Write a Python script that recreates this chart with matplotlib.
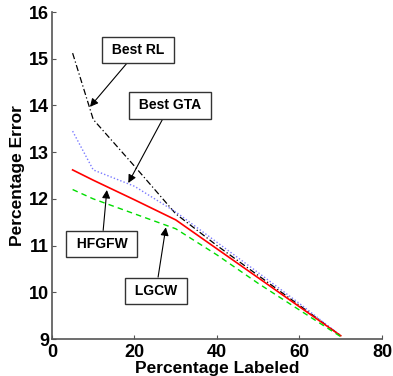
import matplotlib.pyplot as plt

plt.rcParams['font.family'] = ['Liberation Sans', 'DejaVu Sans']
plt.rcParams['font.weight'] = 'bold'

# Data
pct_labeled = [5, 10, 20, 30, 40, 50, 60, 70]
best_rl = [15.12, 13.7, 12.7, 11.68, 11.0, 10.36, 9.72, 9.07]
best_gta = [13.45, 12.62, 12.27, 11.72, 11.07, 10.42, 9.76, 9.07]
hfgfw = [12.62, 12.4, 11.98, 11.55, 10.93, 10.31, 9.69, 9.07]
lgcw = [12.2, 12.0, 11.68, 11.36, 10.8, 10.19, 9.62, 9.05]

fig = plt.figure(figsize=(3.93, 3.76), dpi=100)
ax = fig.add_axes([0.1323, 0.0984, 0.8397, 0.8696])

ax.plot(pct_labeled, best_rl, color='black', linestyle=(0, (5, 2, 1, 2)), linewidth=0.9)
ax.plot(pct_labeled, best_gta, color='#7a7aff', linestyle=(0, (1, 1.5)), linewidth=1.0)
ax.plot(pct_labeled, hfgfw, color='red', linestyle='-', linewidth=1.2)
ax.plot(pct_labeled, lgcw, color='#00dd00', linestyle=(0, (4, 3)), linewidth=1.0)

ax.set_xlim(0, 80)
ax.set_ylim(9, 16)
ax.set_xticks([0, 20, 40, 60, 80])
ax.set_yticks([9, 10, 11, 12, 13, 14, 15, 16])
ax.tick_params(direction='in', length=3, labelsize=13, colors='#555555',
               labelcolor='black')
ax.tick_params(axis='x', pad=3.5)
ax.tick_params(axis='y', pad=2)
for lab in ax.get_xticklabels() + ax.get_yticklabels():
    lab.set_fontweight('bold')
for s in ['top', 'right']:
    ax.spines[s].set_visible(False)
for s in ['left', 'bottom']:
    ax.spines[s].set_color('#555555')
    ax.spines[s].set_linewidth(1.2)

ax.set_xlabel('Percentage Labeled', fontsize=12.5, fontweight='bold', labelpad=0)
ax.set_ylabel('Percentage Error', fontsize=12.5, fontweight='bold', labelpad=3)

box = dict(boxstyle='square,pad=0.45', facecolor='white', edgecolor='#333333', linewidth=1.0)
arrow = dict(arrowstyle='-|>', color='black', linewidth=0.8, mutation_scale=12, shrinkA=0, shrinkB=0)

annots = [
    ('Best RL', (9.2, 13.97), (20.9, 15.19)),
    ('Best GTA', (18.5, 12.34), (28.6, 14.0)),
    ('HFGFW', (13.3, 12.19), (12.1, 11.03)),
    ('LGCW', (27.6, 11.39), (25.2, 10.03)),
]
for txt, tip, pos in annots:
    ax.annotate(' ' + txt + ' ', xy=tip, xytext=pos, ha='center', va='center',
                fontsize=10, fontweight='bold', bbox=box, arrowprops=arrow)

fig.savefig('out.png', dpi=100)
